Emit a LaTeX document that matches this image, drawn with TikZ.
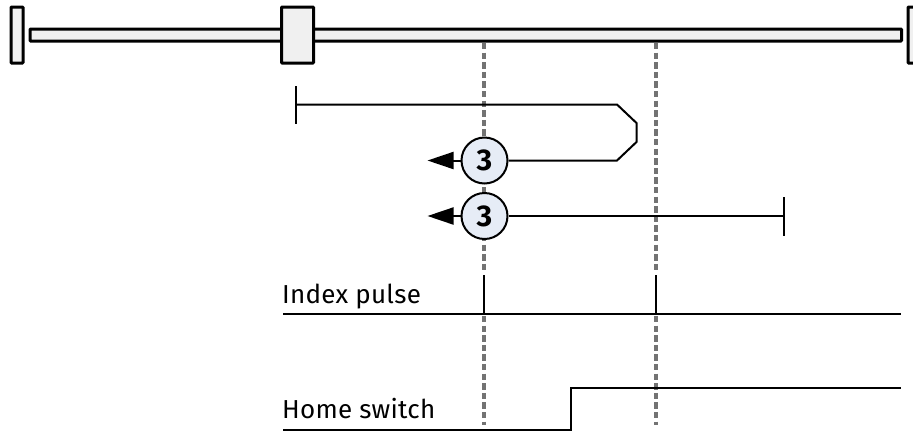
\documentclass[tikz,border=0pt]{standalone}
\usepackage{fontspec}
\setmainfont{Fira Sans}
\newfontfamily\labelfont[LetterSpace=1]{Fira Sans}
\definecolor{markfill}{HTML}{E6ECF6}
\usetikzlibrary{arrows.meta}
\tikzset{
  x=1pt,y=-1pt,
  barbox/.style={draw=black,fill=black!6,line width=3pt,rounded corners=0.8pt},
  guide/.style={draw=black!55,line width=3.3pt,dash pattern=on 6.4pt off 3.2pt},
  trace/.style={draw=black,line width=2pt},
  travel/.style={draw=black,line width=2pt},
  stepmark/.style={circle,draw=black,line width=2pt,fill=markfill,minimum size=46pt,inner sep=0pt,font=\fontsize{30}{30}\selectfont\bfseries},
  siglabel/.style={anchor=base west,inner sep=0pt,font=\labelfont\fontsize{26}{26}\selectfont},
  headtip/.style={-{Triangle[length=26pt,width=17pt]}}
}
\begin{document}
\begin{tikzpicture}
\useasboundingbox (0,0) rectangle (913,432);
\clip (0,0) rectangle (913,432);
% bar and stops
\draw[barbox] (11,7) rectangle (23,63);
\draw[barbox] (30,29) rectangle (901.5,41);
\draw[barbox] (908,7) rectangle (925,63);
% guides
\coordinate (ga) at (484,43); \coordinate (gb) at (484,273);
\coordinate (gc) at (656,43); \coordinate (gd) at (656,273);
\coordinate (ge) at (484,316); \coordinate (gf) at (484,425);
\coordinate (gg) at (656,316); \coordinate (gh) at (656,425);
\draw[guide] (ga) -- (gb);
\draw[guide] (gc) -- (gd);
\draw[guide] (ge) -- (gf);
\draw[guide] (gg) -- (gh);
\draw[barbox] (281.5,7) rectangle (313.5,63);
% step marks
\node[stepmark] (m1) at (484.5,160.5) {3};
\node[stepmark] (m2) at (484.5,216) {3};
% first travel
\coordinate (s1) at (295.5,104.5);
\coordinate (s1a) at (295.5,86); \coordinate (s1b) at (295.5,124);
\coordinate (c1) at (617,104.5); \coordinate (c2) at (636.5,123);
\coordinate (c3) at (636.5,142); \coordinate (c4) at (617,160.5);
\draw[travel] (s1a) -- (s1b);
\draw[travel] (s1) -- (c1) -- (c2) -- (c3) -- (c4) -- (m1.east);
\coordinate (t1) at (427.5,160.5);
\draw[travel,headtip] (m1.west) -- (t1);
% second travel
\coordinate (e2) at (784,216);
\coordinate (e2a) at (784,197); \coordinate (e2b) at (784,236);
\draw[travel] (e2a) -- (e2b);
\draw[travel] (m2.east) -- (e2);
\coordinate (t2) at (427.5,216);
\draw[travel,headtip] (m2.west) -- (t2);
% signals
\node[siglabel] (ip) at (282,303.5) {Index pulse};
\node[siglabel] (hs) at (282,418.5) {Home switch};
\coordinate (ia) at (283,314); \coordinate (ib) at (901,314);
\draw[trace] (ia) -- (ib);
\coordinate (p1a) at (484,275); \coordinate (p1b) at (484,314);
\coordinate (p2a) at (656,275); \coordinate (p2b) at (656,314);
\draw[trace] (p1a) -- (p1b);
\draw[trace] (p2a) -- (p2b);
\coordinate (ha) at (283,430); \coordinate (hb) at (571,430);
\coordinate (hc) at (571,388); \coordinate (hd) at (901,388);
\draw[trace] (ha) -- (hb) -- (hc) -- (hd);
\end{tikzpicture}
\end{document}
